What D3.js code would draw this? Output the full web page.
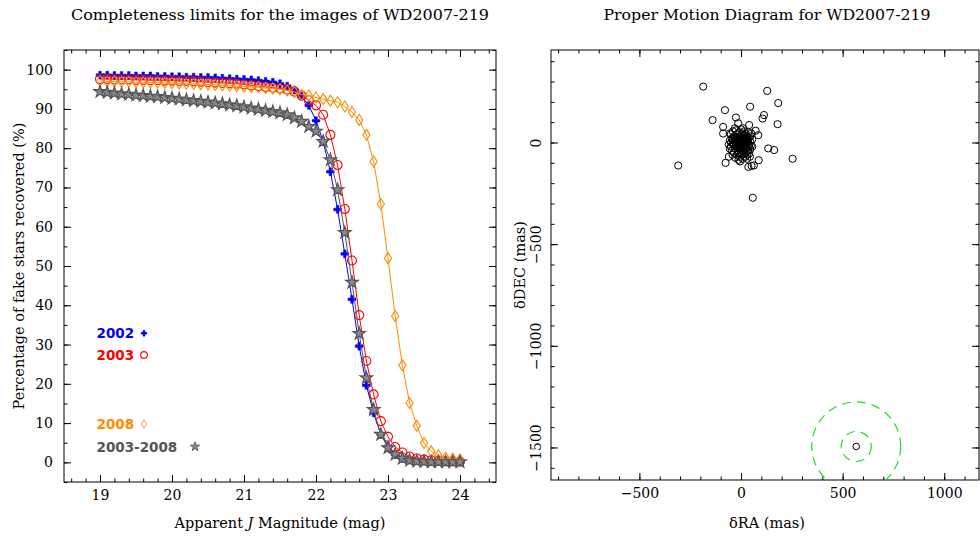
<!DOCTYPE html>
<html><head><meta charset="utf-8">
<script src="https://cdn.jsdelivr.net/npm/d3@7"></script>
<style>body{margin:0;background:#fff}</style>
</head><body>
<script>
// ---------- Data ----------
const mags = [19.0,19.1,19.2,19.3,19.4,19.5,19.6,19.7,19.8,19.9,
              20.0,20.1,20.2,20.3,20.4,20.5,20.6,20.7,20.8,20.9,
              21.0,21.1,21.2,21.3,21.4,21.5,21.6,21.7,21.8,21.9,
              22.0,22.1,22.2,22.3,22.4,22.5,22.6,22.7,22.8,22.9,
              23.0,23.1,23.2,23.3,23.4,23.5,23.6,23.7,23.8,23.9,24.0];
const c2002 = [98.6,98.6,98.5,98.5,98.5,98.4,98.4,98.4,98.3,98.3,
               98.2,98.2,98.1,98.1,98.0,98.0,97.9,97.8,97.7,97.6,
               97.5,97.4,97.2,97.0,96.8,96.4,95.8,94.8,93.2,90.9,
               87.0,81.7,74.0,64.4,53.1,41.5,29.6,19.6,12.6,7.1,
               4.1,2.0,1.0,0.6,0.4,0.3,0.2,0.2,0.1,0.1,0.1];
const c2003 = [97.6,97.6,97.5,97.5,97.5,97.4,97.4,97.3,97.3,97.2,
               97.2,97.1,97.1,97.0,96.9,96.8,96.7,96.6,96.5,96.4,
               96.2,96.0,95.8,95.6,95.4,95.2,94.9,94.4,93.4,92.2,
               90.9,88.5,83.4,75.7,64.5,51.4,37.5,25.8,17.3,10.5,
               6.5,3.9,2.5,1.5,1.0,0.7,0.5,0.4,0.3,0.3,0.2];
const c2008 = [97.1,97.0,97.0,96.9,96.9,96.8,96.8,96.7,96.7,96.6,
               96.6,96.5,96.4,96.4,96.3,96.2,96.1,96.0,95.9,95.8,
               95.7,95.6,95.5,95.3,95.2,95.0,94.7,94.3,93.6,93.4,
               92.9,92.5,92.1,91.7,90.6,89.2,87.2,83.4,76.6,65.8,
               52.0,37.2,24.7,15.1,9.3,4.9,2.8,1.8,1.2,0.9,0.7];
const c0308 = [94.4,94.2,94.0,93.8,93.7,93.5,93.4,93.2,93.1,92.9,
               92.7,92.5,92.3,92.1,91.9,91.7,91.5,91.3,91.0,90.8,
               90.5,90.2,89.9,89.6,89.3,89.0,88.5,87.7,86.8,85.5,
               84.3,81.7,77.0,69.4,58.5,45.8,32.8,21.5,13.4,7.1,
               3.7,2.0,1.0,0.5,0.3,0.2,0.1,0.1,0.1,0.1,0.1];
const seriesNames = ["2002","2003","2008","2003-2008"];
const magTicks = [19,20,21,22,23,24];
const pctTicks = [0,10,20,30,40,50,60,70,80,90,100];

// proper motion: field stars (outliers + dense cluster), mas
const outRA  = [-186,129,183,45,-79,-140,113,106,180,-25,-309,254,134,163,58,-76,87,36,63,52,-5,-88,-88,85,72,-60,44,-14,40];
const outDEC = [275,254,194,176,159,110,135,118,90,123,-113,-80,-29,-37,-272,-100,-87,-120,-113,-115,-93,77,44,36,58,-70,-70,95,86];
const clRA  = [-50,-45,-48,-50,-45,-40,-35,-30,-35,-30,-35,-25,-20,-20,-15,-20,-15,-20,-10,-5,-5,-8,-5,-10,0,5,5,2,5,0,5,15,15,12,15,15,18,25,25,28,25,28,35,38,35,38,35,45,45,48,45,-55,-55,-40,-25,-10,10,20,30,40,55,55,-60,-5,10,-30,-42,22,50,-55,-12,8,-28,30,-2,
               -30,-20,-10,0,10,20,30,-25,-15,-5,5,15,25,-30,-20,-10,0,10,20,30,-25,-15,-5,5,15,25,-20,-10,0,10,20,-15,-5,5,15,-35,35,-40,40,0];
const clDEC = [40,20,0,-20,-40,55,30,10,-10,-30,-50,60,40,20,0,-20,-40,-60,50,30,10,-10,-30,-50,65,45,20,0,-20,-40,-60,55,35,10,-10,-35,-55,40,15,-5,-25,-45,50,25,0,-20,-40,30,5,-15,-35,10,-30,-5,-5,20,-5,25,-60,-55,-20,15,-10,-70,70,70,-60,-70,45,45,-85,-80,-75,-80,5,
               25,25,25,25,25,25,25,15,15,15,15,15,15,5,5,5,5,5,5,5,-5,-5,-5,-5,-5,-5,-15,-15,-15,-15,-15,-25,-25,-25,-25,-15,10,15,-10,-50];
const targetRA = [567], targetDEC = [-1495];
const targetRadii = [74, 219];
const raTicks = [-500,0,500,1000];
const decTicks = [-1500,-1000,-500,0];

// ---------- Setup ----------
const W = 980, H = 538;
const svg = d3.select("body").append("svg").attr("width", W).attr("height", H)
  .style("font-family", "'DejaVu Serif', serif");

const serif = "'DejaVu Serif', serif";
const intFmt = d3.format("d");

function frameAxes(g, x, y, xMajor, xMinor, yMajor, yMinor) {
  const [x0, x1] = x.range(), [y1, y0] = y.range();
  const maj = 7, mn = 3.5;
  const mk = (axisFn, scale, vals, size, tx, ty, labels, pad) => {
    const a = axisFn(scale).tickValues(vals).tickSize(-size).tickPadding(pad || 3);
    a.tickFormat(labels ? intFmt : "");
    const ag = g.append("g").attr("transform", `translate(${tx},${ty})`).call(a);
    ag.select(".domain").remove();
    ag.selectAll("line").attr("stroke", "#000").attr("stroke-width", 1);
    ag.selectAll("text").attr("font-family", serif).attr("font-size", 14).attr("fill", "#000");
    return ag;
  };
  const bx = mk(d3.axisBottom, x, xMajor, maj, 0, y1, true, 8);
  mk(d3.axisBottom, x, xMinor, mn, 0, y1, false);
  mk(d3.axisTop, x, xMajor, maj, 0, y0, false);
  mk(d3.axisTop, x, xMinor, mn, 0, y0, false);
  const ly = mk(d3.axisLeft, y, yMajor, maj, x0, 0, true, 11);
  mk(d3.axisLeft, y, yMinor, mn, x0, 0, false);
  mk(d3.axisRight, y, yMajor, maj, x1, 0, false);
  mk(d3.axisRight, y, yMinor, mn, x1, 0, false);
  g.append("rect").attr("x", x0).attr("y", y0).attr("width", x1 - x0).attr("height", y1 - y0)
    .attr("fill", "none").attr("stroke", "#000").attr("stroke-width", 1);
  return {bx, ly};
}

// ---------- Left panel ----------
const xL = d3.scaleLinear().domain([18.5, 24.5]).range([64, 496]);
const yL = d3.scaleLinear().domain([-5, 105]).range([482, 50]);
const gL = svg.append("g");
const minorMag = d3.range(18.6, 24.45, 0.2).map(v => +v.toFixed(1));
const minorPct = d3.range(-5, 105.1, 5);
frameAxes(gL, xL, yL, magTicks, minorMag, pctTicks, minorPct);

const seriesData = [c2002, c2003, c2008, c0308];
const colors = ["#0000ff", "#ff0000", "#ff8c00", "#555555"];
const line = d3.line().x((d, i) => xL(mags[i])).y(d => yL(d));

const plusPath = d3.symbol().type(d3.symbolCross).size(34)();
const starPath = d3.symbol().type(d3.symbolStar).size(48)();
const diamondPath = "M0,-5.5L3.6,0L0,5.5L-3.6,0Z";

function drawMarker(sel, k, scale) {
  scale = scale || 1;
  if (k === 0) {
    sel.append("path").attr("d", plusPath).attr("fill", colors[0]).attr("stroke", colors[0]).attr("stroke-width", 0.5)
      .attr("transform", `scale(${scale})`);
  } else if (k === 1) {
    sel.append("circle").attr("r", 4.5 * scale).attr("fill", "none").attr("stroke", colors[1]).attr("stroke-width", 1.1);
  } else if (k === 2) {
    sel.append("path").attr("d", diamondPath).attr("fill", "none").attr("stroke", colors[2]).attr("stroke-width", 1.1)
      .attr("transform", `scale(${scale})`);
  } else {
    sel.append("path").attr("d", starPath).attr("fill", "#8a8a8a").attr("stroke", colors[3]).attr("stroke-width", 1.2)
      .attr("transform", `scale(${scale})`);
  }
}

seriesData.forEach((vals, k) => {
  const sg = gL.append("g");
  sg.append("path").attr("d", line(vals)).attr("fill", "none").attr("stroke", colors[k]).attr("stroke-width", 1);
  sg.selectAll("g.m").data(vals).join("g").attr("class", "m")
    .attr("transform", (d, i) => `translate(${xL(mags[i])},${yL(d)})`)
    .each(function() { drawMarker(d3.select(this), k); });
});

// legend
const legY = [338.3, 360, 429, 451.7];
const legMarkX = [144, 144, 144, 195];
seriesNames.forEach((nm, k) => {
  svg.append("text").attr("x", 96.5).attr("y", legY[k]).text(nm)
    .attr("font-family", "'DejaVu Sans', sans-serif").attr("font-weight", "bold")
    .attr("font-size", 13.5).attr("fill", colors[k]);
  const mg = svg.append("g").attr("transform", `translate(${legMarkX[k]},${legY[k] - 5})`);
  drawMarker(mg, k, 0.75);
});

// titles and labels
svg.append("text").attr("x", 280).attr("y", 20).attr("text-anchor", "middle")
  .attr("font-size", 14.5).attr("textLength", 418).attr("lengthAdjust", "spacingAndGlyphs")
  .text("Completeness limits for the images of WD2007-219");
const xlab = svg.append("text").attr("x", 280).attr("y", 528).attr("text-anchor", "middle").attr("font-size", 14.5);
xlab.append("tspan").text("Apparent ");
xlab.append("tspan").attr("font-style", "italic").text("J");
xlab.append("tspan").text(" Magnitude (mag)");
svg.append("text").attr("transform", "translate(23.5,266) rotate(-90)").attr("text-anchor", "middle")
  .attr("font-size", 14.5).text("Percentage of fake stars recovered (%)");

// ---------- Right panel ----------
const xR = d3.scaleLinear().domain([-935, 1171]).range([551, 979]);
const yR = d3.scaleLinear().domain([-1660, 455]).range([480, 50]);
const gR = svg.append("g");
const minorRA = d3.range(-900, 1171, 100);
const minorDEC = d3.range(-1600, 455, 100);
const axR = frameAxes(gR, xR, yR, raTicks, minorRA, decTicks, minorDEC);
axR.ly.selectAll("text").attr("transform", "rotate(-90)").attr("text-anchor", "middle")
  .attr("x", 0).attr("y", -10.3).attr("dy", 0);

svg.append("defs").append("clipPath").attr("id", "clipR").append("rect")
  .attr("x", 551).attr("y", 50).attr("width", 428).attr("height", 430);
const plot = gR.append("g").attr("clip-path", "url(#clipR)");

const pxPerMas = xR(1) - xR(0);
targetRadii.forEach(r => {
  plot.append("circle").attr("cx", xR(targetRA[0])).attr("cy", yR(targetDEC[0]))
    .attr("r", r * pxPerMas).attr("fill", "none").attr("stroke", "#22dd22")
    .attr("stroke-width", 1.2).attr("stroke-dasharray", "9,6");
});
plot.append("circle").attr("cx", xR(targetRA[0])).attr("cy", yR(targetDEC[0])).attr("r", 3.3)
  .attr("fill", "none").attr("stroke", "#000").attr("stroke-width", 1);

const allRA = outRA.concat(clRA), allDEC = outDEC.concat(clDEC);
plot.selectAll("circle.pm").data(allRA).join("circle").attr("class", "pm")
  .attr("cx", d => xR(d)).attr("cy", (d, i) => yR(allDEC[i])).attr("r", 3.6)
  .attr("fill", "none").attr("stroke", "#000").attr("stroke-width", 1);

svg.append("text").attr("x", 767).attr("y", 20).attr("text-anchor", "middle")
  .attr("font-size", 14.5).attr("textLength", 327).attr("lengthAdjust", "spacingAndGlyphs")
  .text("Proper Motion Diagram for WD2007-219");
svg.append("text").attr("x", 767).attr("y", 528).attr("text-anchor", "middle").attr("font-size", 14.5)
  .text("δRA (mas)");
svg.append("text").attr("transform", "translate(525,265) rotate(-90)").attr("text-anchor", "middle")
  .attr("font-size", 14.5).text("δDEC (mas)");
</script>
</body></html>
